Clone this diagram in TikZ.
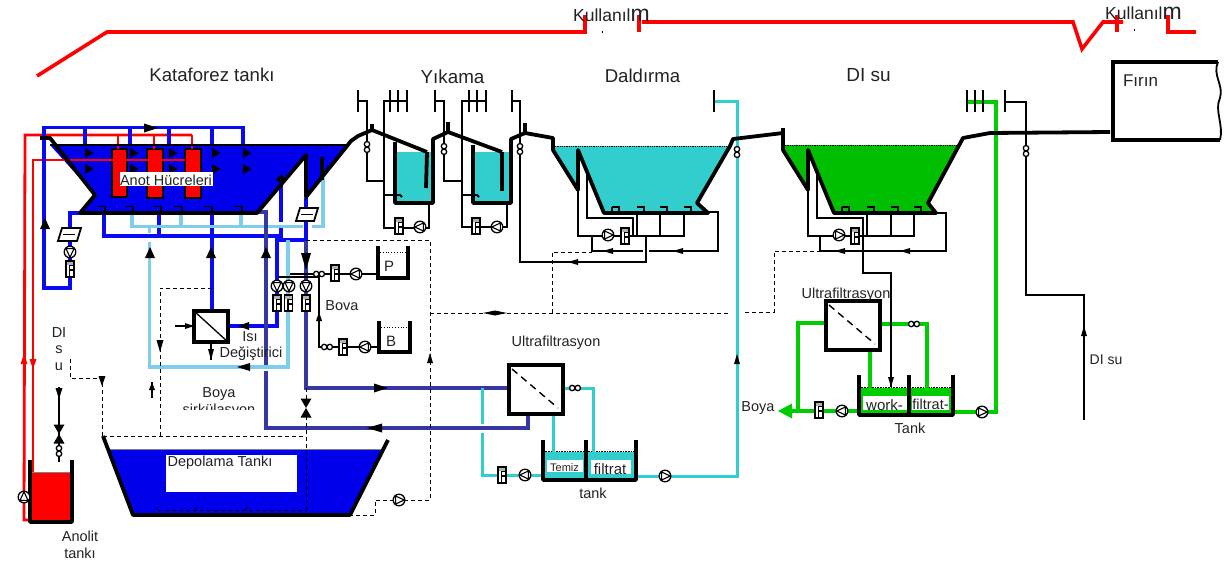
\documentclass[tikz,border=0pt]{standalone}
\usepackage{fontspec}
\setmainfont{Liberation Sans}
\definecolor{pblue}{RGB}{10,10,240}
\definecolor{tblue}{RGB}{0,0,235}
\definecolor{lblue}{RGB}{125,205,235}
\definecolor{navy}{RGB}{55,55,160}
\definecolor{teal1}{RGB}{50,205,205}
\definecolor{grn}{RGB}{0,205,0}
\definecolor{tgrn}{RGB}{0,190,0}
\definecolor{txt}{RGB}{35,35,35}
\tikzset{
  lbl/.style={inner sep=0pt,text=txt,font=\fontsize{#1}{#1}\selectfont},
  lbl/.default=14.5,
  thick wall/.style={line width=3.8pt,line join=round,black},
  thin pipe/.style={line width=1.8pt,black},
  red pipe/.style={line width=2.8pt,red},
  blue pipe/.style={line width=3.2pt,pblue},
  light pipe/.style={line width=3.2pt,lblue},
  navy pipe/.style={line width=3.2pt,navy},
  teal pipe/.style={line width=3pt,teal1},
  green pipe/.style={line width=3.2pt,grn},
  dash pipe/.style={line width=.9pt,black,dash pattern=on 4pt off 3pt},
  symb/.style={line width=1.3pt,black,fill=white},
}
% pump: centre, direction angle (0 right, 90 down, 180 left, 270 up)
\newcommand\Pmp[3]{\draw[symb] (#1,#2) circle (5.8pt);
  \draw[line width=1.1pt,fill=white] ($(#1,#2)+(#3:5.2)$) -- ($(#1,#2)+(#3+130:5.2)$) -- ($(#1,#2)+(#3-130:5.2)$) -- cycle;}
% flow meter
\newcommand\Fbx[2]{\draw[symb] (#1-4,#2-8) rectangle (#1+4,#2+8);
  \fill[gray!60] (#1-3.4,#2-7.4) rectangle (#1+3.4,#2-4.5);
  \draw[line width=1.1pt] (#1+3,#2-3.5) -- (#1-.5,#2-3.5) -- (#1-.5,#2+6.5) (#1-.5,#2+1) -- (#1+3,#2+1);}
% coupling: two small rings
\newcommand\EtV[2]{\draw[symb] (#1,#2-2.8) circle (2.7pt) (#1,#2+2.8) circle (2.7pt);}
\newcommand\EtH[2]{\draw[symb] (#1-2.8,#2) circle (2.7pt) (#1+2.8,#2) circle (2.7pt);}
% arrow heads: tip, signed length, half width
\newcommand\ArH[4]{\fill[black] (#1,#2) -- ++(-#3,-#4) -- ++(0,2*#4) -- cycle;}
\newcommand\ArV[4]{\fill[black] (#1,#2) -- ++(-#4,-#3) -- ++(2*#4,0) -- cycle;}
% inlet hook
\newcommand\Hook[3]{\draw[line width=1.8pt,black] (#1,#2) -- ++(#3,0) -- ++(0,5);}
\newcommand\Vlv[2]{\fill[black] (#1-5.5,#2-9.5) -- (#1+5.5,#2-9.5) -- (#1-5.5,#2+9.5) -- (#1+5.5,#2+9.5) -- cycle;}
\usetikzlibrary{calc}
\begin{document}
\begin{tikzpicture}[x=1pt,y=-1pt]
\useasboundingbox (0,0) rectangle (1231,565);
\fill[white] (0,0) rectangle (1231,565);

%% ---------- conveyor (red)
\draw[line width=3.6pt,red,line join=miter] (37,76) -- (107,32) -- (585,32) -- (585,15);
\draw[line width=3.6pt,red] (639,15) -- (639,32);
\draw[line width=3.6pt,red,line join=miter] (642,22) -- (1073,22) -- (1082,49) -- (1103,22) -- (1123,22);
\draw[line width=3.6pt,red] (1117,15) -- (1117,32);
\draw[line width=3.6pt,red,line join=miter] (1168,15) -- (1168,32) -- (1196,32);
\fill[black] (601.5,31) rectangle (603,32.5);
\fill[black] (1133.5,29) rectangle (1135,30.5);

%% ---------- tank fills
\fill[tblue] (50,145) -- (348,145) -- (308,195) -- (306,155) -- (257,212) -- (80,213) -- (95,195) -- cycle;
\fill[teal1] (553,146) -- (730,146) -- (697,203) -- (708,213) -- (604,213) -- (578,150) -- (578,190) -- (553,150) -- cycle;
\fill[tgrn] (783,145) -- (960,145) -- (928,203) -- (936,213) -- (834,213) -- (808,150) -- (808,190) -- (783,150) -- cycle;
\fill[teal1] (396,152) rectangle (432,202);
\fill[teal1] (474,152) rectangle (510,203);
\fill[teal1] (543,452) rectangle (636,480);
\fill[grn] (859,388) rectangle (953,415);
\draw[black,line width=.8pt,densely dotted] (553,146) -- (730,146);
\draw[black,line width=.8pt,densely dotted] (783,145) -- (960,145);
\draw[black,line width=.6pt,densely dotted] (859,387.5) -- (953,387.5);
\draw[black,line width=.6pt,densely dotted] (543,451.5) -- (636,451.5);
\fill[tblue] (109,450) -- (383,450) -- (350,514) -- (133,514) -- cycle;
\draw[gray,line width=.8pt] (109,449.5) -- (383,449.5);
\fill[white] (166,455) rectangle (297,492);
\fill[red] (32,472) rectangle (70,520);
\draw[gray,line width=.6pt] (32,472) -- (70,472);

%% ---------- anode cells
\draw[black,line width=1.8pt,fill=red] (112,149) rectangle (127,197);
\draw[black,line width=1.8pt,fill=red] (147,149) rectangle (163,198);
\draw[black,line width=1.8pt,fill=red] (185,149) rectangle (201,198);

%% ---------- red anolyte pipes
\draw[red pipe] (118,149) -- (118,135) (154,149) -- (154,135) (192,149) -- (192,135);
\draw[red pipe,line join=miter] (192,135) -- (25,135) -- (24,520) -- (33,520);
\draw[red pipe,line join=miter] (185,160) -- (33,160) -- (33,472);
\draw[red pipe] (33,520) -- (33,516);
\fill[red] (24,354) -- (20.5,364) -- (27.5,364) -- cycle;
\fill[red] (33,369) -- (29.5,359) -- (36.5,359) -- cycle;

%% ---------- blue pipes
\draw[blue pipe,line join=miter] (243,146) -- (243,127.5) -- (44,127.5) -- (44,288) -- (70,288) -- (70,213) -- (80,213);
\foreach \xx in {85,130,169,212}{\draw[blue pipe] (\xx,127.5) -- (\xx,146);}
\draw[blue pipe,line join=miter] (104,213) -- (104,236) -- (281,236) -- (281,226);
\draw[blue pipe] (281,222) -- (281,180);
\draw[blue pipe] (159,213) -- (159,236);
\draw[blue pipe] (212,213) -- (212,310);
\draw[blue pipe] (306,198) -- (306,241);
\draw[blue pipe,line join=miter] (306,240) -- (277,240) -- (277,326) -- (228,326);

%% ---------- light blue pipes
\draw[light pipe] (132,213) -- (132,226.5) -- (303,226.5);
\draw[light pipe] (312,226.5) -- (323,226.5) -- (323,178);
\draw[light pipe] (181,213) -- (181,226.5) (241,213) -- (241,226.5);
\draw[light pipe] (149.5,226.5) -- (149.5,233);
\draw[light pipe,line join=miter] (149.5,242) -- (149.5,367) -- (288,367) -- (288,240);

%% ---------- navy pipes
\draw[navy pipe,line join=miter] (257,212) -- (266,212) -- (266,365);
\draw[navy pipe,line join=miter] (266,371) -- (266,428) -- (528,428) -- (528,415);
\draw[navy pipe,line join=miter] (306,241) -- (306,388) -- (508,388);

%% ---------- teal pipes
\draw[teal pipe,line join=miter] (714,101) -- (737,101) -- (737,476) -- (637,476);
\draw[teal pipe,line join=miter] (563,388) -- (593,388) -- (593,452);
\draw[teal pipe] (553,414) -- (553,452);
\draw[teal pipe] (482,388) -- (482,424);
\draw[teal pipe,line join=miter] (482,433) -- (482,475) -- (543,475);

%% ---------- green pipes
\draw[green pipe,line join=miter] (967,102) -- (996,102) -- (996,412) -- (954,412);
\draw[green pipe,line join=miter] (826,323) -- (798,323) -- (798,411);
\draw[green pipe,line join=miter] (880,324) -- (927,324) -- (927,388);
\draw[green pipe] (870,350) -- (870,388);
\draw[line width=3.4pt,grn] (859,411) -- (790,411);
\fill[grn] (778,411) -- (792,403.5) -- (792,418.5) -- cycle;

%% ---------- thin black piping
\draw[thin pipe] (358,90) -- (358,112) (358,101) -- (367,101) -- (367,181) -- (384,181);
\draw[thin pipe] (408,101) -- (384,101) -- (384,228) -- (429,228) -- (429,203);
\draw[thin pipe] (390,90) -- (390,112) (398,90) -- (398,112) (407,90) -- (407,112);
\draw[thin pipe] (384,195) -- (400,195) -- (402,197);
\draw[thin pipe] (435,90) -- (435,112) (435,101) -- (444,101) -- (444,181) -- (462,181);
\draw[thin pipe] (486,101) -- (462,101) -- (462,227) -- (507,227) -- (507,203);
\draw[thin pipe] (469,90) -- (469,112) (477,90) -- (477,112) (486,90) -- (486,112);
\draw[thin pipe] (462,195) -- (477,195) -- (479,197);
\draw[thin pipe] (512,90) -- (512,112) (512,101) -- (520,101) -- (520,262) -- (646,262) -- (646,236);
\draw[thin pipe] (578,190) -- (578,236) -- (684,236) -- (684,212);
\draw[thin pipe] (587,172) -- (587,218) -- (633,218) -- (633,236);
\draw[thin pipe] (612,213) -- (612,207) (637,213) -- (637,236) (660,213) -- (660,236);
\draw[thin pipe] (708,212) -- (718,212) -- (718,251) -- (649,251);
\draw[thin pipe] (643,251) -- (592,251) -- (592,236);
\draw[thin pipe] (714,90) -- (714,112);
% DI-su section
\draw[thin pipe] (1005,90) -- (1005,112) (1005,102) -- (1026,102) -- (1026,295) -- (1084,295) -- (1084,420);
\draw[thin pipe] (967,90) -- (967,112) (975,90) -- (975,112) (983,90) -- (983,112);
\draw[thin pipe] (808,190) -- (808,236) -- (914,236) -- (914,212);
\draw[thin pipe] (817,172) -- (817,218) -- (863,218) -- (863,273) -- (891,273) -- (891,387);
\draw[thin pipe] (842,213) -- (842,207) (867,213) -- (867,236) (891,213) -- (891,236);
\draw[thin pipe] (936,213) -- (946,213) -- (946,251) -- (820,251) -- (820,236);
% bova
\draw[thin pipe] (278,277) -- (319,277) -- (319,347) -- (379,347);
\draw[thin pipe] (290,274) -- (378,274);
% anolyte inlet and DI water
\draw[thin pipe] (59,387) -- (59,462);
\draw[thin pipe] (175,326) -- (194,326) (211,342) -- (211,360);
\draw[thin pipe] (152,382) -- (152,398);

%% ---------- dashed lines
\draw[dash pipe] (306,240) -- (430,240) -- (430,500) -- (375,500) -- (375,515) -- (350,515);
\draw[dash pipe] (430,313) -- (730,313);
\draw[dash pipe] (745,312) -- (774,312) -- (774,251) -- (820,251);
\draw[dash pipe] (552,313) -- (552,252) -- (592,252);
\draw[dash pipe] (212,288) -- (160,288) -- (160,436);
\draw[dash pipe] (103,436) -- (306,436);
\draw[dash pipe] (102,436) -- (102,378) -- (70,378) -- (70,358);
\draw[dash pipe] (306,388) -- (306,510) -- (162,510) -- (156,510) -- (156,507);
\draw[dash pipe] (195,510) -- (198,507) (245,510) -- (248,507);

%% ---------- thick walls
\draw[thick wall] (40,138) -- (50,138) -- (95,195) -- (80,213) -- (257,213) -- (306,155) -- (306,197) -- (351,141) -- (358,136) -- (372,130) -- (427,152);
\draw[line width=2pt] (50,144.5) -- (348,144.5);
\draw[thick wall] (322,157) -- (322,180);
\draw[thick wall] (372,124) -- (372,130);
\draw[thick wall] (395,142) -- (395,203) -- (433,203) -- (433,139) -- (448,132) -- (502,152);
\draw[thick wall] (427,152) -- (426,188);
\draw[thick wall] (448,122) -- (448,132);
\draw[thick wall] (473,145) -- (473,203) -- (511,203) -- (511,139) -- (525,133) -- (553,138) -- (553,150) -- (578,190) -- (578,150) -- (604,213) -- (708,213) -- (697,203) -- (730,146) -- (733,139) -- (783,133);
\draw[thick wall] (502,152) -- (502,191);
\draw[thick wall] (525,123) -- (525,133);
\draw[thick wall] (783,128) -- (783,150) -- (808,190) -- (808,150) -- (834,213) -- (936,213) -- (928,203) -- (963,138) -- (990,133) -- (1110,132);
\draw[thick wall] (103,436) -- (133,515) -- (350,515) -- (388,440);
\draw[thick wall] (30,460) -- (30,522) -- (72,522) -- (72,460);
\draw[thick wall] (543,440) -- (543,480) -- (636,480) -- (636,440) (586,440) -- (586,480);
\draw[thick wall] (859,375) -- (859,415) -- (953,415) -- (953,375) (909,375) -- (909,415);
\draw[line width=3.4pt,black] (378,246) -- (378,278) -- (408,278) -- (408,246);
\draw[line width=3.4pt,black] (379,321) -- (379,352) -- (410,352) -- (410,321);
\draw[line width=.8pt,dotted] (380,252) -- (406,252) (381,327) -- (408,327);
% oven
\draw[line width=3.4pt,black,line join=miter] (1220,140) -- (1113,140) -- (1113,62) -- (1218,62);
\draw[line width=1.8pt,black] (1218,62) .. controls (1212,75) and (1224,85) .. (1220,98) .. controls (1214,110) and (1224,125) .. (1220,140);

%% ---------- nozzle hooks and inner arrows
\foreach \xx in {97,125,153,174,204,234}{\Hook{\xx}{206.5}{8}}
\foreach \xx in {612,637,660,684}{\Hook{\xx}{207}{7}}
\foreach \xx in {842,867,891,914}{\Hook{\xx}{207}{7}}
\foreach \xx in {85,130,169,212,243}{
  \fill[black] (\xx,148) -- (\xx+8.5,153) -- (\xx,158) -- cycle;
  \fill[black] (\xx,164) -- (\xx+8.5,169) -- (\xx,174) -- cycle;}
\fill[black] (276,180) -- (281,174) -- (286,180) -- (281,183) -- cycle;
\ArH{158}{128}{14}{4.5}
\ArV{45}{218}{-11}{5}
\ArV{150}{247}{-11}{5}
\ArV{211}{247}{-11}{5}
\ArV{266}{247}{-11}{5}
\ArV{306}{270}{17}{5}
\ArH{238}{326}{-11}{4}
\ArH{237}{367}{-13}{4}
\ArV{319}{312}{-9}{3}
\ArH{194}{326}{9}{3}
\ArV{211}{360}{11}{3}
\ArV{160}{352}{12}{3.5}
\ArV{102}{386}{10}{3.5}
\ArV{59}{399}{11}{3.5}
\ArV{152}{382}{-8}{3}
\ArH{388}{388}{14}{4.5}
\ArH{367}{428}{-15}{4.5}
\ArV{430}{353}{-10}{3}
\ArH{483}{313}{-12}{2.5}
\ArH{507}{313}{12}{2.5}
\ArV{737}{354}{-10}{3}
\ArH{603}{251}{-10}{3}
\ArH{673}{251}{-10}{3}
\ArH{568}{262}{-10}{3}
\ArH{835}{251}{-10}{3}
\ArH{900}{251}{-10}{3}
\ArV{891}{387}{10}{3}
\ArV{1084}{326}{-10}{3}

%% ---------- symbols
\Vlv{306}{408}
\Vlv{59}{434}
% tilted strainers
\draw[symb,line width=1.8pt] (62,228) -- (81,228) -- (77,241) -- (58,241) -- cycle;
\draw[line width=1.1pt] (63,234.5) -- (75,234.5);
\draw[symb,line width=1.8pt] (300,208) -- (318,208) -- (314,221) -- (296,221) -- cycle;
\draw[line width=1.1pt] (301,214.5) -- (313,214.5);
\Pmp{70}{252}{90}\Fbx{70}{269}
\Pmp{277}{286}{90}\Pmp{289}{286}{90}\Pmp{306}{286}{90}
\Fbx{277}{303}\Fbx{288.5}{303}\Fbx{306}{303}
\EtH{319}{274}\Fbx{335}{273}\Pmp{356}{274}{180}
\EtH{327}{347}\Fbx{343}{347}\Pmp{365}{347}{180}
\Pmp{399}{500}{0}
\Pmp{24}{497}{270}
\EtV{367}{147}\EtV{444}{149}\EtV{520}{149}\EtV{737}{152}\EtV{1026}{151}
\EtV{59}{451}
\Fbx{399}{226}\Pmp{420}{227}{180}
\Fbx{476}{226}\Pmp{497}{227}{180}
\Pmp{608}{235}{0}\Fbx{625}{236}
\Pmp{839}{235}{0}\Fbx{855}{236}
\Fbx{502}{475}\Pmp{525}{475}{180}\Pmp{665}{476}{0}
\EtH{575}{388}\EtH{914}{324}
\Fbx{819}{410}\Pmp{842}{411}{180}\Pmp{982}{412}{0}

%% ---------- exchangers
\draw[line width=3.4pt,black,fill=white] (194,311) rectangle (228,342);
\draw[line width=1.3pt] (194,311) -- (228,342);
\draw[line width=3.4pt,black,fill=white] (509,365) rectangle (563,414);
\draw[line width=1.4pt,dash pattern=on 7pt off 5pt] (512,369) -- (558,408);
\draw[line width=3.4pt,black,fill=white] (826,301) rectangle (880,350);
\draw[line width=1.4pt,dash pattern=on 7pt off 5pt] (829,305) -- (875,344);

%% ---------- labels on white
\fill[white] (547,460) rectangle (583,472);
\fill[white] (591,460) rectangle (631,474);
\fill[white] (863,396) rectangle (907,410);
\fill[white] (912,396) rectangle (949,410);
\fill[white] (120,172) rectangle (213,186);

\node[lbl=18.6] (tKat) at (212,75) {Kataforez tankı};
\node[lbl=18.8] (tYik) at (452.5,77) {Yıkama};
\node[lbl=18.6] (tDal) at (642.5,76) {Daldırma};
\node[lbl=19] (tDI) at (868.5,75) {DI su};
\node[lbl=17] (tFir) at (1140.5,81) {Fırın};
\node[lbl=14.5] (tAnot) at (166,180) {Anot Hücreleri};
\node[lbl=14.5] (tBova) at (342,306) {Bova};
\node[lbl=14.5] (tIsi) at (250,337) {Isı};
\node[lbl=14.5] (tDeg) at (251,354) {Değiştirici};
\node[lbl=14.5] (tBoya) at (219,394) {Boya};
\begin{scope}
\clip (170,400) rectangle (270,409);
\node[lbl=14.5] (tSirk) at (219,411) {sirkülasyon};
\end{scope}
\node[lbl=14.5] (tDep) at (220,463) {Depolama Tankı};
\node[lbl=14.5] (tDI1) at (59,333) {DI};
\node[lbl=14.5] (tDI2) at (59,350) {s};
\node[lbl=14.5] (tDI3) at (59,367) {u};
\node[lbl=14.5] (tAno1) at (80,536) {Anolit};
\node[lbl=14.5] (tAno2) at (80,553) {tankı};
\node[lbl=15] (tP) at (389,266) {P};
\node[lbl=15] (tB) at (391,341) {B};
\node[lbl=14.5] (tUF1) at (556,343) {Ultrafiltrasyon};
\node[lbl=14.5] (tUF2) at (846,295) {Ultrafiltrasyon};
\node[lbl=11] (tTem) at (564.5,468) {Temiz};
\node[lbl=15] (tFil) at (610,469) {filtrat};
\node[lbl=14.5] (tTank) at (593,493) {tank};
\node[lbl=15] (tWork) at (884.5,405) {work-};
\node[lbl=14.5] (tFil2) at (930.5,404) {filtrat-};
\node[lbl=14.5] (tTnk2) at (910,428) {Tank};
\node[lbl=14.5] (tBoy2) at (758,408) {Boya};
\node[lbl=14] (tDIs) at (1106,360) {DI su};
\node[inner sep=0pt,text=txt,anchor=west] (tKul1) at (573,15) {\fontsize{17.5}{16}\selectfont Kullanıl\fontsize{23}{16}\selectfont m};
\node[inner sep=0pt,text=txt,anchor=west] (tKul2) at (1105,13) {\fontsize{17.5}{16}\selectfont Kullanıl\fontsize{23}{16}\selectfont m};
\end{tikzpicture}
\end{document}
